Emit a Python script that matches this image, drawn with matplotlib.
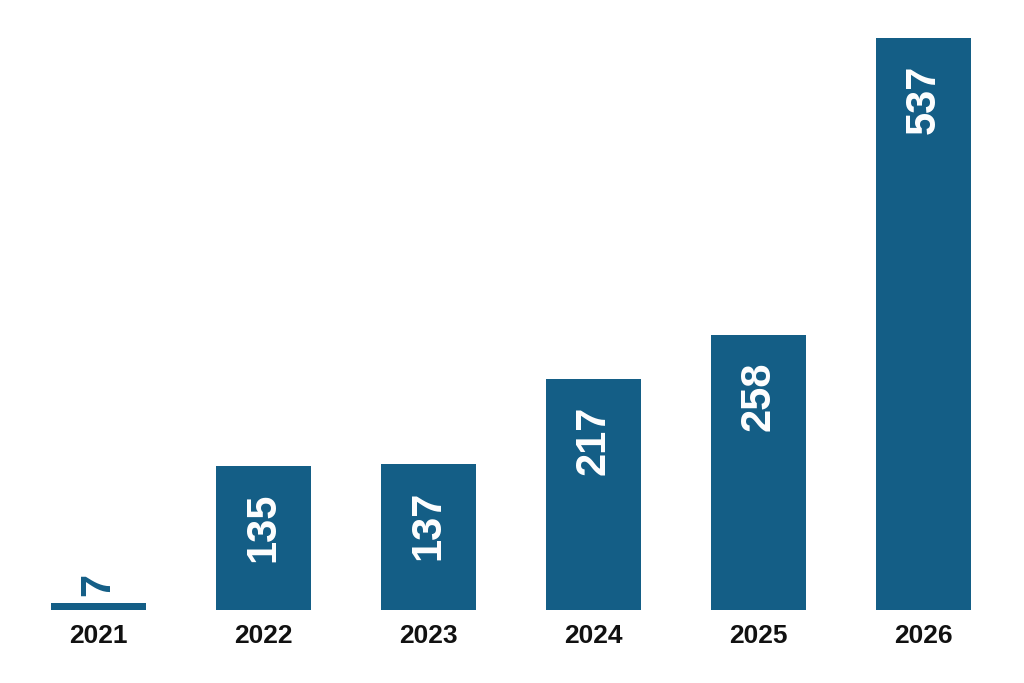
import matplotlib
matplotlib.use("Agg")
import matplotlib.pyplot as plt

years = ["2021", "2022", "2023", "2024", "2025", "2026"]
values = [7, 135, 137, 217, 258, 537]

bar_color = "#145e86"

fig = plt.figure(figsize=(10.24, 6.83), dpi=100)
ax = fig.add_axes([0, 73 / 683, 1, (645 - 73) / 683])

x = list(range(len(years)))
bars = ax.bar(x, values, width=0.576, color=bar_color)

ax.set_xlim(-98.5 / 165, (1024 - 98.5) / 165)
ax.set_ylim(0, max(values))

for rect, v in zip(bars, values):
    cx = rect.get_x() + rect.get_width() / 2
    if v >= 0.15 * max(values):
        ax.annotate(str(v), xy=(cx, rect.get_height()),
                    xytext=(0, -19), textcoords="offset points",
                    rotation=90, ha="center", va="top",
                    color="white", fontsize=30, fontweight="bold",
                    family="Liberation Sans")
    else:
        ax.annotate(str(v), xy=(cx, rect.get_height()),
                    xytext=(0, 5), textcoords="offset points",
                    rotation=90, ha="center", va="bottom",
                    color=bar_color, fontsize=30, fontweight="bold",
                    family="Liberation Sans")

ax.set_xticks(x)
ax.set_xticklabels(years, fontsize=19, fontweight="bold", family="Liberation Sans", color="#111111")
ax.tick_params(axis="x", length=0, pad=10)
ax.set_yticks([])
for s in ax.spines.values():
    s.set_visible(False)

fig.savefig("out.png", dpi=100, facecolor="white")
